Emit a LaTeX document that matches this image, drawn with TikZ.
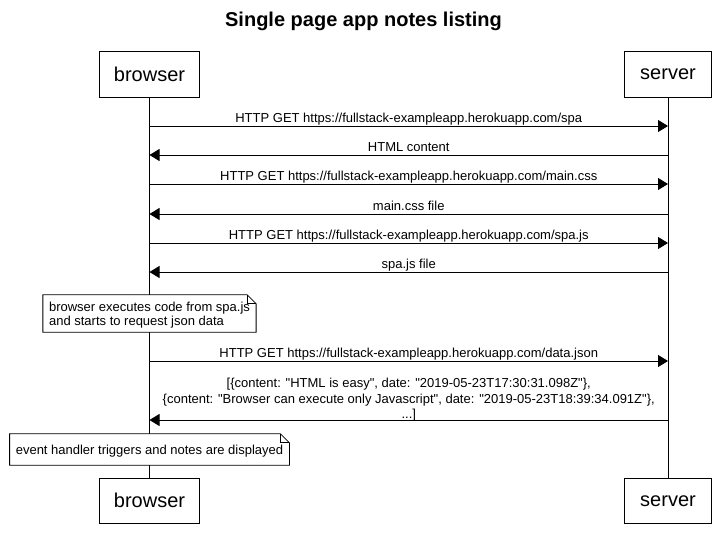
\documentclass[tikz,border=0pt]{standalone}
\usepackage{fontspec}
\setmainfont{Liberation Sans}[Ligatures=TeXOff]
\usepackage{tikz}
\usetikzlibrary{positioning}
\usetikzlibrary{arrows.meta}
\usetikzlibrary{calc}
\tikzstyle{actor}=[rectangle,draw,fill=white,line width=0.8pt,minimum height=45.5pt,inner sep=0pt,font=\fontsize{20}{24}\selectfont]
\tikzstyle{lifeline} = [draw,line width=0.8pt]
\tikzstyle{message} = [draw,line width=0.8pt,-{Triangle[length=10pt,width=12pt]}]
\tikzstyle{msglabel} = [font=\fontsize{13}{15.5}\selectfont,align=center,inner sep=0pt,text depth=3pt]
\tikzstyle{notetext} = [font=\fontsize{13}{14.5}\selectfont,align=left,inner xsep=6pt,inner ysep=0pt]
\tikzstyle{notebox} = [draw,line width=0.8pt,fill=white]

\begin{document}
\begin{tikzpicture}[x=1pt,y=-1pt]
   \useasboundingbox (0,0) rectangle (726,547);

   \def\bx{149.5};
   \def\sx{668};

   \node[font=\bfseries\fontsize{20}{24}\selectfont] (title) at (363.5,21.5) {Single page app notes listing};

    \foreach \pos/\name/\label/\boxw in {{(\bx,74.3)/browserTop/browser/100}, {(\sx,74.3)/serverTop/server/87},
                                       {(\bx,500.8)/browserBot/browser/100}, {(\sx,500.8)/serverBot/server/87}}
            \node[actor, minimum width=\boxw] (\name) at \pos {\label};

    \foreach \source/ \dest in {browserTop/browserBot, serverTop/serverBot}
        \path[lifeline] (\source) -- (\dest);

   % points on the lifelines
    \foreach \y/\name in {126/m1, 155/m2, 184/m3, 214/m4, 243/m5, 272/m6, 361/m7, 420/m8}
    {
        \coordinate (b\name) at (\bx,\y);
        \coordinate (s\name) at (\sx,\y);
    }

    \foreach \source/ \dest /\label in {bm1/sm1/{HTTP GET https://fullstack-exampleapp.herokuapp.com/spa},
                                        sm2/bm2/{HTML content},
                                        bm3/sm3/{HTTP GET https://fullstack-exampleapp.herokuapp.com/main.css},
                                        sm4/bm4/{main.css file},
                                        bm5/sm5/{HTTP GET https://fullstack-exampleapp.herokuapp.com/spa.js},
                                        sm6/bm6/{spa.js file},
                                        bm7/sm7/{HTTP GET https://fullstack-exampleapp.herokuapp.com/data.json}}
        \path[message] (\source) -- node[msglabel,above] {\label} (\dest);

    \path[message] (sm8) -- node[msglabel,above,yshift=-2pt] {[\{content: "HTML is easy", date: "2019-05-23T17:30:31.098Z"\},\\
        \{content: "Browser can execute only Javascript", date: "2019-05-23T18:39:34.091Z"\},\\
        ...]} (bm8);

   % notes
    \foreach \pos/\name/\noteh/\label in {{(\bx,313.5)/note1/37/{browser executes code from spa.js\\and starts to request json data}},
                                       {(\bx,449.5)/note2/31/{event handler triggers and notes are displayed}}}
    {
        \node[notetext, minimum height=\noteh] (\name) at \pos {\label};
        \path[notebox] (\name.north west) -- ($(\name.north east)+(-9,0)$) -- ($(\name.north east)+(0,9)$)
            -- (\name.south east) -- (\name.south west) -- cycle;
        \path[draw,line width=0.8pt] ($(\name.north east)+(-9,0)$) -- ($(\name.north east)+(-9,9)$) -- ($(\name.north east)+(0,9)$);
        \node[notetext,yshift=-1.5pt] at \pos {\label};
    }

   \end{tikzpicture}
\end{document}
